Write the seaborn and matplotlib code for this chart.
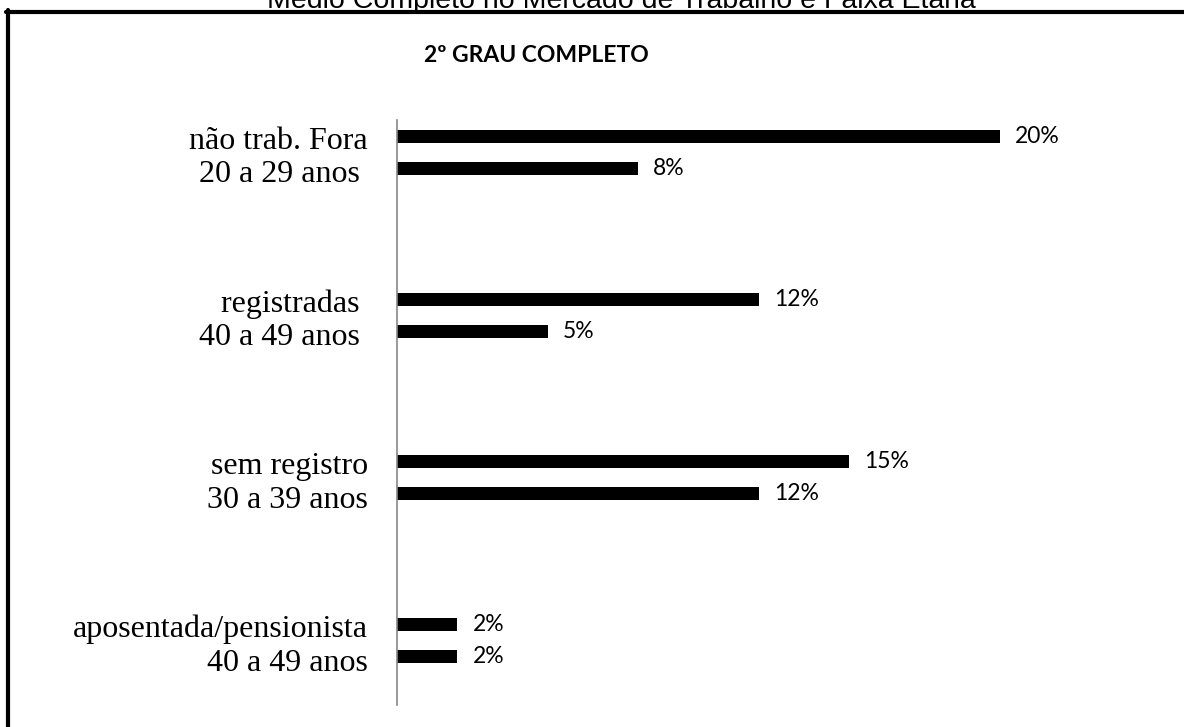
import pandas as pd
import matplotlib.pyplot as plt
from matplotlib.lines import Line2D
import seaborn as sns

# ── 데이터 ──────────────────────────────────────────────
categories = [
    "não trab. Fora\n20 a 29 anos ",
    "registradas \n40 a 49 anos ",
    "sem registro\n30 a 39 anos",
    "aposentada/pensionista\n40 a 49 anos",
]
series_names = ["A", "B"]
values_a = [20, 12, 15, 2]
values_b = [8, 5, 12, 2]

df = pd.DataFrame({
    "categoria": categories * 2,
    "serie": [series_names[0]] * 4 + [series_names[1]] * 4,
    "valor": values_a + values_b,
})

sns.set_theme(style="white")
plt.rcParams["font.family"] = ["Liberation Serif", "DejaVu Serif"]

W, H = 1184, 727
fig = plt.figure(figsize=(W / 100, H / 100), dpi=100)
fig.patch.set_facecolor("white")

# plot area (pixel based)
left, right, top, bottom = 397, 1120, 120, 705
ax = fig.add_axes([left / W, 1 - bottom / H, (right - left) / W, (bottom - top) / H])

sns.barplot(
    data=df, x="valor", y="categoria", hue="serie", orient="h",
    palette=["black", "black"], width=0.393, gap=0.59,
    edgecolor="none", linewidth=0, legend=False, ax=ax,
)

ax.set_xlim(0, 24)
ax.set_ylim(3.397, -0.2)
ax.set_xlabel("")
ax.set_ylabel("")
ax.set_xticks([])
for s in ["top", "right", "bottom"]:
    ax.spines[s].set_visible(False)
ax.spines["left"].set_color("#888888")
ax.spines["left"].set_linewidth(1.2)
ax.tick_params(axis="y", length=0, pad=21, labelsize=23)
for lbl in ax.get_yticklabels():
    lbl.set_horizontalalignment("right")
    lbl.set_multialignment("right")
    lbl.set_color("black")

for cont in ax.containers:
    ax.bar_label(
        cont, labels=[f"{v:.0f}%" for v in cont.datavalues],
        padding=11, fontsize=16.5, family=["Lato", "DejaVu Sans"], color="black",
    )

# titles
fig.text(536 / W, 1 - 55 / H, "2º GRAU COMPLETO", ha="center", va="center",
         fontsize=16.5, fontweight="bold", family=["Lato", "DejaVu Sans"], color="black")
fig.text(621 / W, 1 - 8 / H, "Médio Completo no Mercado de Trabalho e Faixa Etária",
         ha="center", va="baseline", fontsize=20.5,
         family=["Liberation Sans", "DejaVu Sans"], color="black")

# border (top and left edges)
fig.add_artist(Line2D([6 / W, 1.0], [1 - 11.5 / H, 1 - 11.5 / H],
                      transform=fig.transFigure, color="black", linewidth=3))
fig.add_artist(Line2D([8 / W, 8 / W], [1 - 10 / H, 0.0],
                      transform=fig.transFigure, color="black", linewidth=3))

fig.savefig("out.png", dpi=100)
